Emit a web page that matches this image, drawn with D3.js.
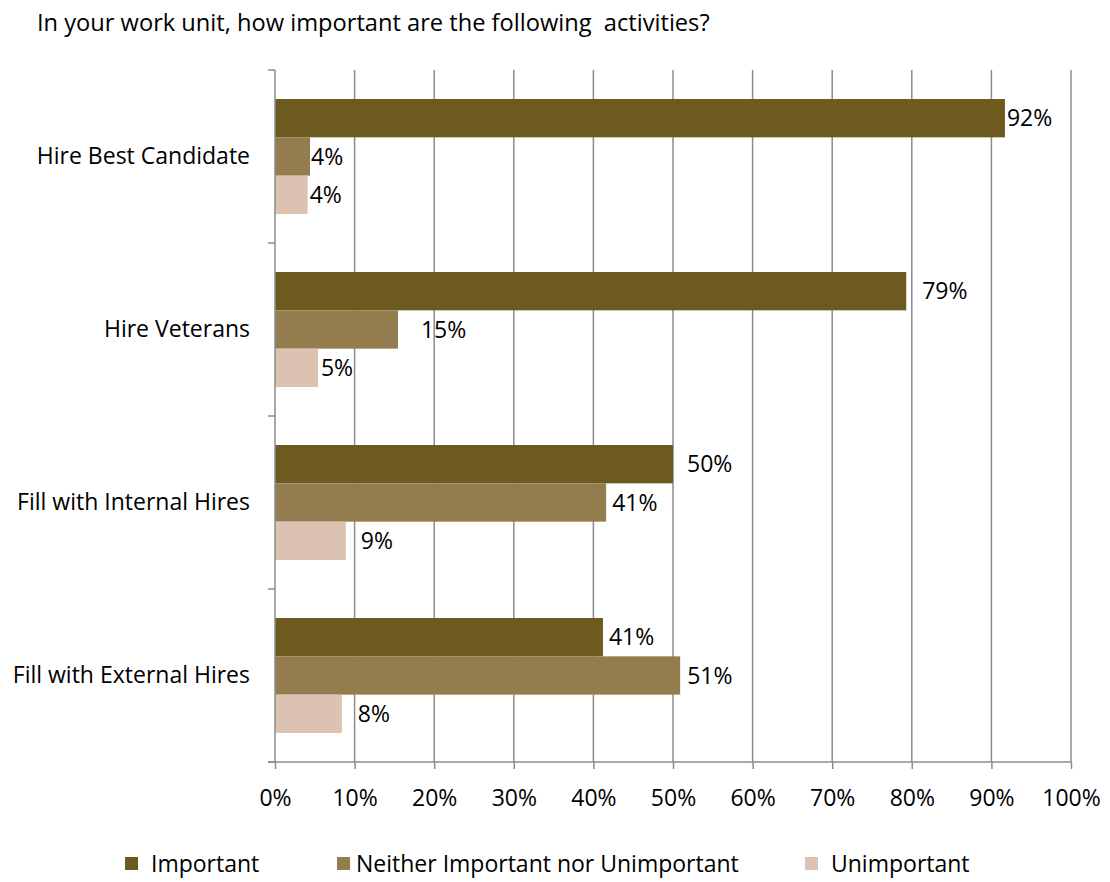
<!DOCTYPE html>
<html>
<head>
<meta charset="utf-8">
<script src="https://cdn.jsdelivr.net/npm/d3@7"></script>
<style>
  html, body { margin: 0; padding: 0; background: #fff; }
  svg text { font-family: "Open Sans", sans-serif; fill: #000; }
</style>
</head>
<body>
<svg id="chart" width="1110" height="882"></svg>
<script>
// ---- data ----
const title = "In your work unit, how important are the following  activities?";
const categories = ["Hire Best Candidate", "Hire Veterans", "Fill with Internal Hires", "Fill with External Hires"];
const seriesNames = ["Important", "Neither Important nor Unimportant", "Unimportant"];
const important = [91.7, 79.3, 50.0, 41.2];
const neither = [4.4, 15.45, 41.6, 50.9];
const unimportant = [4.1, 5.4, 8.9, 8.4];
const importantLabels = ["92%", "79%", "50%", "41%"];
const neitherLabels = ["4%", "15%", "41%", "51%"];
const unimportantLabels = ["4%", "5%", "9%", "8%"];
const tickValues = [0, 10, 20, 30, 40, 50, 60, 70, 80, 90, 100];
const tickLabels = ["0%", "10%", "20%", "30%", "40%", "50%", "60%", "70%", "80%", "90%", "100%"];

// ---- layout / style ----
const colors = ["#6c5a1e", "#937d4f", "#dcc3b1"];
const labelNudge = [[2, 16, 14, 6], [1, 23, 6, 7], [2, 3, 15, 16]];
const legendSquareX = [125, 337, 805];
const legendTextX = [151, 356, 831];
const gridColor = "#8c8c8c";
const plot = { left: 275, right: 1071, top: 70, bottom: 762 };

const svg = d3.select("#chart");

const x = d3.scaleLinear().domain([0, 100]).range([plot.left, plot.right]);
const y = d3.scaleBand().domain(categories).range([plot.top, plot.bottom]).padding(0);
const ySub = d3.scaleBand().domain(seriesNames).range([0, y.bandwidth()])
  .paddingInner(0).paddingOuter(0.757);

const seriesValues = [important, neither, unimportant];
const seriesLabels = [importantLabels, neitherLabels, unimportantLabels];

// title (fit to reference width)
const titleText = svg.append("text").attr("x", 37).attr("y", 31)
  .style("font-size", "22px").style("white-space", "pre")
  .attr("xml:space", "preserve").text(title);
const tw = titleText.node().getComputedTextLength();
titleText.style("font-size", (22 * 673 / tw).toFixed(2) + "px");

// gridlines
svg.append("g").selectAll("line").data(tickValues.filter(d => d > 0)).join("line")
  .attr("x1", d => x(d)).attr("x2", d => x(d))
  .attr("y1", plot.top).attr("y2", plot.bottom)
  .attr("stroke", gridColor).attr("stroke-width", 1.5);

// bars
seriesNames.forEach((s, si) => {
  const g = svg.append("g");
  g.selectAll("rect").data(categories).join("rect")
    .attr("x", x(0))
    .attr("y", (c) => y(c) + ySub(s))
    .attr("width", (c, i) => x(seriesValues[si][i]) - x(0))
    .attr("height", ySub.bandwidth())
    .attr("fill", colors[si]);
  g.selectAll("text").data(categories).join("text")
    .attr("x", (c, i) => x(seriesValues[si][i]) + labelNudge[si][i])
    .attr("y", (c) => y(c) + ySub(s) + ySub.bandwidth() / 2)
    .attr("dy", "0.36em")
    .style("font-size", "23px")
    .text((c, i) => seriesLabels[si][i]);
});

// x axis
const xAxis = d3.axisBottom(x).tickValues(tickValues)
  .tickFormat((d, i) => tickLabels[i]).tickSize(7).tickPadding(21);
const gx = svg.append("g").attr("transform", `translate(0,${plot.bottom})`).call(xAxis);
gx.select(".domain").attr("stroke", gridColor).attr("stroke-width", 1.5)
  .attr("d", `M${plot.left - 7},0H${plot.right}`);
gx.selectAll(".tick line").attr("stroke", gridColor).attr("stroke-width", 1.5);
gx.selectAll(".tick text").style("font-size", "23px").style("font-family", "'Open Sans', sans-serif").attr("fill", "#000");

// y axis
const yAxis = d3.axisLeft(y).tickSize(0).tickPadding(25);
const gy = svg.append("g").attr("transform", `translate(${plot.left},0)`).call(yAxis);
gy.select(".domain").attr("stroke", gridColor).attr("stroke-width", 1.5)
  .attr("d", `M0,${plot.top}V${plot.bottom}`);
gy.selectAll(".tick text").style("font-size", "23px").style("font-family", "'Open Sans', sans-serif").attr("fill", "#000");
// y tick marks at band boundaries
const boundaries = categories.map(c => y(c)).concat([plot.bottom]);
gy.append("g").selectAll("line").data(boundaries).join("line")
  .attr("x1", -7).attr("x2", 0)
  .attr("y1", d => d).attr("y2", d => d)
  .attr("stroke", gridColor).attr("stroke-width", 1.5);

// legend
const lg = svg.append("g");
seriesNames.forEach((s, i) => {
  lg.append("rect").attr("x", legendSquareX[i]).attr("y", 857)
    .attr("width", 13).attr("height", 13).attr("fill", colors[i]);
  lg.append("text").attr("x", legendTextX[i]).attr("y", 864).attr("dy", "0.36em")
    .style("font-size", "23px").text(s);
});
</script>
</body>
</html>
